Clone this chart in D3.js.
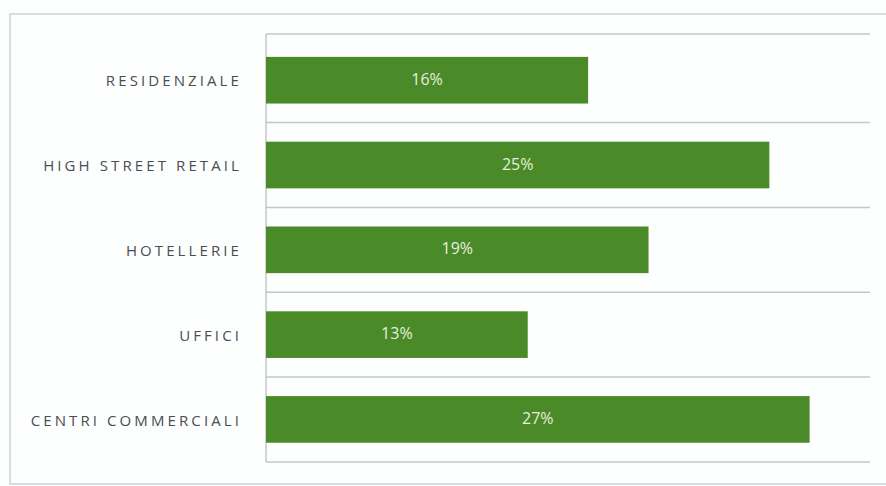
<!DOCTYPE html>
<html>
<head>
<meta charset="utf-8">
<script src="https://cdn.jsdelivr.net/npm/d3@7"></script>
<style>
  body { margin: 0; background: #fdfefe; }
  svg { display: block; }
</style>
</head>
<body>
<div id="chart"></div>
<script>
let categories = ["RESIDENZIALE", "HIGH STREET RETAIL", "HOTELLERIE", "UFFICI", "CENTRI COMMERCIALI"];
let values = [16, 25, 19, 13, 27];
let valueLabels = ["16%", "25%", "19%", "13%", "27%"];

function drawChart() {

  let width = 886;
  let height = 486;
  let plotLeft = 266;
  let plotRight = 870;
  let plotTop = 34;
  let plotBottom = 462;

  let svg = d3.select("#chart").append("svg")
  .attr("width", width)
  .attr("height", height);

  svg.append("rect")
  .attr("width", "100%")
  .attr("height", "100%")
  .attr("fill", "#fdfefe");

  // outer frame of the box (left / top / bottom)
  svg.append("path")
  .attr("d", "M" + (width + 2) + ",14 H10 V484 H" + (width + 2))
  .attr("fill", "none")
  .attr("stroke", "#d0d3d6")
  .attr("stroke-width", 1.5);

  let x = d3.scaleLinear()
  .domain([0, 30])
  .range([plotLeft, plotRight]);

  // bands a touch tighter than the plot box, like the original
  let y = d3.scaleBand()
  .domain(categories)
  .range([plotTop, plotBottom - 4])
  .paddingInner(0.45)
  .paddingOuter(0.225)
  .align(0.6);

  let gap = (y.step() - y.bandwidth()) / 2;

  // horizontal grid lines between the bands
  let boundaries = [plotTop].concat(categories.slice(0, -1).map(function(c) {
    return y(c) + y.bandwidth() + gap;
  })).concat([plotBottom]);

  svg.selectAll("line.grid")
  .data(boundaries)
  .enter().append("line")
  .attr("class", "grid")
  .attr("x1", plotLeft)
  .attr("x2", plotRight)
  .attr("y1", function(d) { return d; })
  .attr("y2", function(d) { return d; })
  .attr("stroke", "#c4c7ca")
  .attr("stroke-width", 1.5);

  // left axis line
  svg.append("line")
  .attr("x1", plotLeft)
  .attr("x2", plotLeft)
  .attr("y1", plotTop)
  .attr("y2", plotBottom)
  .attr("stroke", "#c4c7ca")
  .attr("stroke-width", 1.5);

  let rows = categories.map(function(c, i) {
    return { cat: c, value: values[i], label: valueLabels[i] };
  });

  svg.selectAll("rect.bar")
  .data(rows)
  .enter().append("rect")
  .attr("class", "bar")
  .attr("x", x(0))
  .attr("y", function(d) { return y(d.cat); })
  .attr("width", function(d) { return x(d.value) - x(0); })
  .attr("height", y.bandwidth())
  .attr("fill", "#4a8a28");

  svg.selectAll("text.val")
  .data(rows)
  .enter().append("text")
  .attr("class", "val")
  .attr("x", function(d) { return (x(0) + x(d.value)) / 2; })
  .attr("y", function(d) { return y(d.cat) + y.bandwidth() / 2 - 1; })
  .attr("dy", "0.35em")
  .attr("text-anchor", "middle")
  .attr("fill", "#e6efde")
  .attr("font-family", "'Open Sans', sans-serif")
  .attr("font-size", 16)
  .text(function(d) { return d.label; });

  svg.selectAll("text.cat")
  .data(rows)
  .enter().append("text")
  .attr("class", "cat")
  .attr("x", 242)
  .attr("y", function(d) { return y(d.cat) + y.bandwidth() / 2 + 1; })
  .attr("dy", "0.35em")
  .attr("text-anchor", "end")
  .attr("fill", "#4a4d52")
  .attr("font-family", "'Open Sans', sans-serif")
  .attr("font-size", 15)
  .attr("letter-spacing", "3.1px")
  .text(function(d) { return d.cat; });

}

drawChart();
</script>
</body>
</html>
